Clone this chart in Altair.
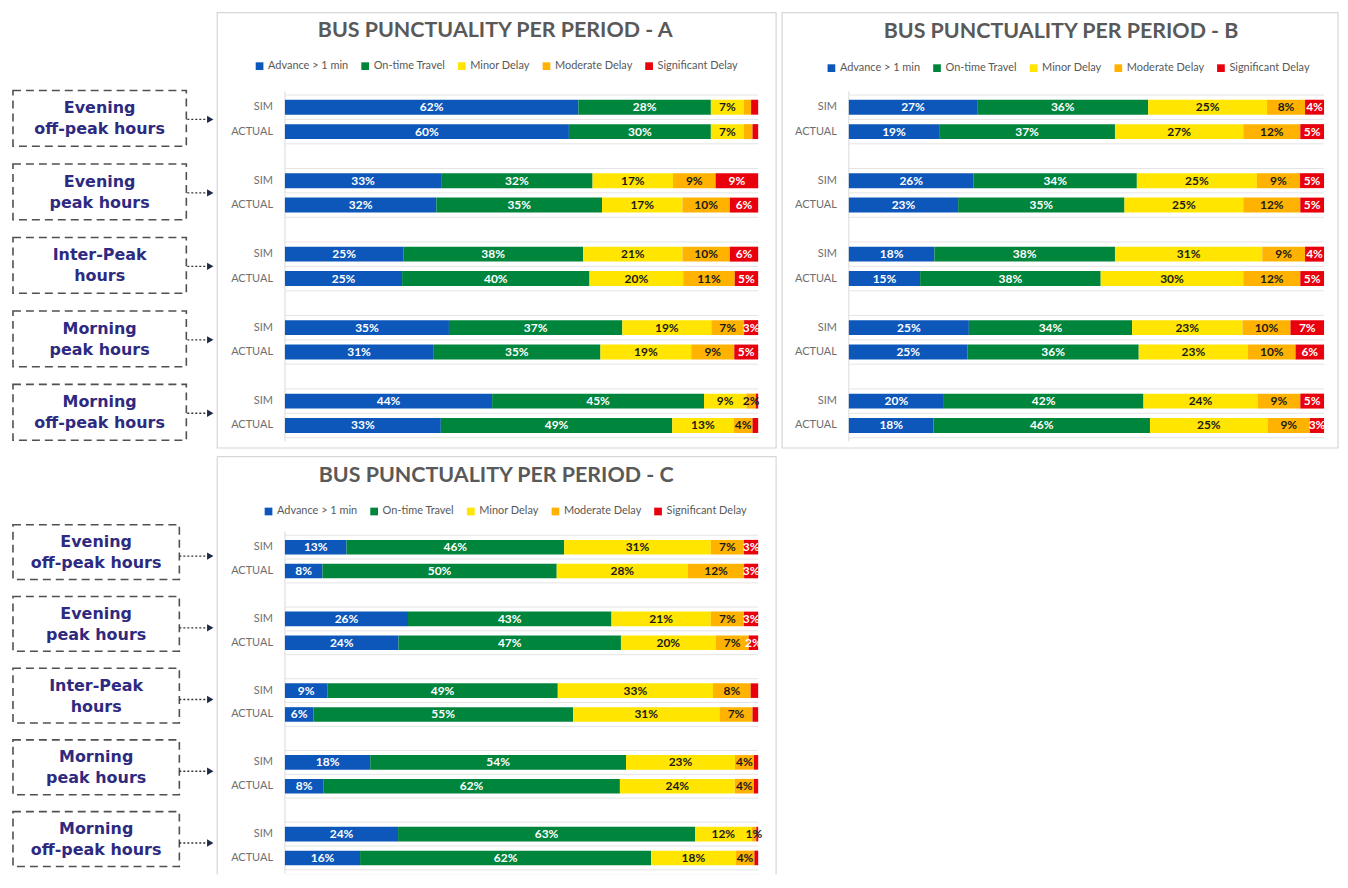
import altair as alt
import pandas as pd

# ---------------- data ----------------
categories = ["Advance > 1 min", "On-time Travel", "Minor Delay", "Moderate Delay", "Significant Delay"]
colors = ["#0D57BA", "#00853D", "#FFE500", "#FFB300", "#E8000C"]
label_colors = ["white", "white", "#1A1A1A", "#1A1A1A", "white"]
periods = ["Evening\noff-peak hours", "Evening\npeak hours", "Inter-Peak\nhours",
           "Morning\npeak hours", "Morning\noff-peak hours"]
rows = ["SIM", "ACTUAL"]

# values per period (top to bottom), per category; non-integer = tiny unlabelled segment
a_sim = [[62, 28, 7, 1.5, 1.5], [33, 32, 17, 9, 9], [25, 38, 21, 10, 6], [35, 37, 19, 7, 3], [44, 45, 9, 2, 0.5]]
a_actual = [[60, 30, 7, 1.8, 1.2], [32, 35, 17, 10, 6], [25, 40, 20, 11, 5], [31, 35, 19, 9, 5], [33, 49, 13, 4, 1.2]]
b_sim = [[27, 36, 25, 8, 4], [26, 34, 25, 9, 5], [18, 38, 31, 9, 4], [25, 34, 23, 10, 7], [20, 42, 24, 9, 5]]
b_actual = [[19, 37, 27, 12, 5], [23, 35, 25, 12, 5], [15, 38, 30, 12, 5], [25, 36, 23, 10, 6], [18, 46, 25, 9, 3]]
c_sim = [[13, 46, 31, 7, 3], [26, 43, 21, 7, 3], [9, 49, 33, 8, 1.6], [18, 54, 23, 4, 0.9], [24, 63, 12, 1, 0.4]]
c_actual = [[8, 50, 28, 12, 3], [24, 47, 20, 7, 2], [6, 55, 31, 7, 1.2], [8, 62, 24, 4, 0.9], [16, 62, 18, 4, 0.8]]


def make_df(sim, actual):
    recs = []
    for pi, p in enumerate(periods):
        for kind, vals in (("SIM", sim[pi]), ("ACTUAL", actual[pi])):
            for ci, c in enumerate(categories):
                recs.append({"period": p, "kind": kind, "cat": c, "order": ci,
                             "v": vals[ci], "tc": label_colors[ci]})
    return pd.DataFrame(recs)


# ---------------- layout constants ----------------
PI, PO, Q = 0.3356, 0.05, 0.388
FONT = "Lato"
GRAY = "#595959"
FRAME = "#D6D6D6"


def panel(df, title, W, H, frame, title_xy, legend_xy, side=None, open_bottom=False):
    ysc = alt.Scale(domain=periods, paddingInner=PI, paddingOuter=PO)
    y = alt.Y("period:N", scale=ysc, axis=None)
    yo = alt.YOffset("kind:N", scale=alt.Scale(domain=rows, paddingInner=Q, paddingOuter=Q / 2))
    xs = alt.Scale(domain=[0, 1], nice=False, zero=True)
    one = alt.Data(values=[{"k": 0}])

    base = alt.Chart(df).transform_stack(
        stack="v", groupby=["period", "kind"], as_=["x0", "x1"], offset="normalize",
        sort=[alt.SortField("order", order="ascending")]
    ).transform_calculate(mid="(datum.x0 + datum.x1) / 2", lab="datum.v + '%'")

    x0f, x1f, y0f, y1f = frame
    fr = alt.Chart(one)
    if open_bottom:
        frame_layers = [
            fr.mark_rect(fill="white", strokeWidth=0).encode(
                x=alt.value(x0f), x2=alt.value(x1f), y=alt.value(y0f), y2=alt.value(y1f)),
            fr.mark_rule(color=FRAME, strokeWidth=1.2).encode(
                x=alt.value(x0f), x2=alt.value(x1f), y=alt.value(y0f)),
            fr.mark_rule(color=FRAME, strokeWidth=1.2).encode(
                x=alt.value(x0f), y=alt.value(y0f), y2=alt.value(y1f)),
            fr.mark_rule(color=FRAME, strokeWidth=1.2).encode(
                x=alt.value(x1f), y=alt.value(y0f), y2=alt.value(y1f)),
        ]
    else:
        frame_layers = [fr.mark_rect(fill="white", stroke=FRAME, strokeWidth=1.2).encode(
            x=alt.value(x0f), x2=alt.value(x1f), y=alt.value(y0f), y2=alt.value(y1f))]

    title_l = alt.Chart(one).mark_text(text=title, font=FONT, fontWeight="bold", fontSize=21.5,
                                       color=GRAY, baseline="middle").encode(
        x=alt.value(title_xy[0]), y=alt.value(title_xy[1]))

    vline = alt.Chart(one).mark_rule(color="#DADADA").encode(
        x=alt.value(0), y=alt.value(0), y2=alt.value(H))

    per = base.transform_filter("datum.order == 0 && datum.kind == 'SIM'")
    grids = [per.mark_rule(color="#E4E4E4").encode(
        x=alt.value(0), x2=alt.value(W),
        y=alt.Y("period:N", scale=ysc, axis=None, bandPosition=bp)) for bp in (0, 0.5, 1)]

    bars = base.mark_bar().encode(
        x=alt.X("x0:Q", scale=xs, axis=None), x2="x1:Q", y=y, yOffset=yo,
        color=alt.Color("cat:N", sort=categories,
                        scale=alt.Scale(domain=categories, range=colors),
                        legend=alt.Legend(title=None, orient="none", direction="horizontal",
                                          legendX=legend_xy[0], legendY=legend_xy[1],
                                          symbolType="square", symbolSize=60, symbolStrokeWidth=0,
                                          labelFont=FONT, labelFontSize=11, labelColor=GRAY,
                                          columnPadding=11, labelOffset=3, padding=0)))

    labels = base.transform_filter("datum.v == floor(datum.v)").mark_text(
        font=FONT, fontWeight="bold", fontSize=12, baseline="middle").encode(
        x=alt.X("mid:Q", scale=xs, axis=None), y=y, yOffset=yo, text="lab:N",
        color=alt.Color("tc:N", scale=None))

    rowlab = base.transform_filter("datum.order == 0").mark_text(
        font=FONT, fontSize=11, color="#6E6E6E", align="right", baseline="middle").encode(
        x=alt.value(-12), y=y, yOffset=yo, text="kind:N")

    layers = frame_layers + [title_l, vline] + grids + [bars, labels, rowlab]

    if side is not None:
        cx, bw, bh, a0, a1, boff, aoff = side
        sdf = pd.DataFrame({"period": periods})
        sbase = alt.Chart(sdf)
        ratio = bh / bw
        path = f"M-1,-{ratio:.4f}L1,-{ratio:.4f}L1,{ratio:.4f}L-1,{ratio:.4f}Z"
        box = sbase.mark_point(shape=path, filled=False, size=bw * bw, stroke="#505050",
                               strokeWidth=1.6, strokeDash=[8, 5], opacity=1, yOffset=boff).encode(
            x=alt.value(cx), y=y)
        txt = sbase.mark_text(lineBreak="\n", font="DejaVu Sans", fontWeight="bold", fontSize=16,
                              lineHeight=21, dy=-10 + boff, color="#2E2A80", baseline="middle").encode(
            x=alt.value(cx), y=y, text="period:N")
        arr = sbase.mark_rule(color="#333333", strokeDash=[2, 2], strokeWidth=1.4, yOffset=aoff).encode(
            x=alt.value(a0), x2=alt.value(a1), y=y)
        head = sbase.mark_point(shape="triangle-right", filled=True, size=55, color="#1F2A44",
                                opacity=1, yOffset=aoff).encode(x=alt.value(a1 + 3), y=y)
        layers += [box, txt, arr, head]

    return alt.layer(*layers).properties(width=W, height=H)


# page geometry (plot origins): A (283, 89)  B (849, 89)  C (283, 530.4)
HA = 73.75 * (5 - PI + 2 * PO)
HC = 72.0 * (5 - PI + 2 * PO)
TOP_A, TOP_C = 89.06, 530.44

A = panel(make_df(a_sim, a_actual), "BUS PUNCTUALITY PER PERIOD - A", 475, HA,
          frame=(-68, 493, -79, 358), title_xy=(211, -61), legend_xy=(-31, -31),
          side=(-186, 174, 56, -98, -78, -1, 0))
B = panel(make_df(b_sim, b_actual), "BUS PUNCTUALITY PER PERIOD - B", 477, HA,
          frame=(-67, 491, -79, 358), title_xy=(213, -60), legend_xy=(-23, -29))
C = panel(make_df(c_sim, c_actual), "BUS PUNCTUALITY PER PERIOD - C", 475, HC,
          frame=(-68, 493, -75.4, 344), title_xy=(212, -56), legend_xy=(-22, -26),
          side=(-189.5, 167, 55, -106, -78, -7, -3), open_bottom=True)

chart = alt.concat(A, B, C, columns=2, spacing={"row": TOP_C - TOP_A - HA, "column": 91},
                   bounds="flush", align="each").resolve_scale(
    color="independent", y="independent", x="independent", yOffset="independent"
).properties(
    padding={"left": 1, "top": 1, "right": 0, "bottom": 0}
).configure_view(strokeWidth=0, stroke="transparent").configure(font=FONT)

chart.save("out.html", embed_options={"renderer": "svg", "actions": False})
